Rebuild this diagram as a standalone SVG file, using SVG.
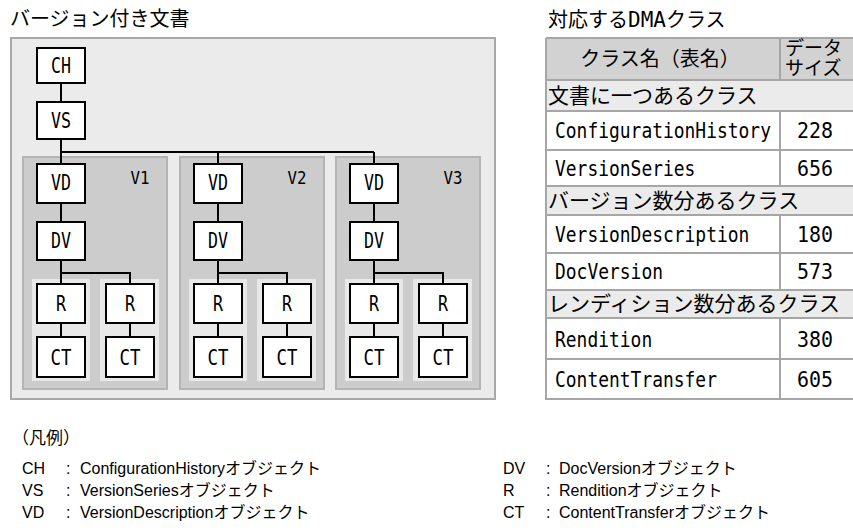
<svg xmlns="http://www.w3.org/2000/svg" width="853" height="530" viewBox="0 0 853 530">
<style>
.box{fill:#fff;stroke:#000;stroke-width:2}
.ln{stroke:#000;stroke-width:2;fill:none}
.outer{fill:#ebebeb;stroke:#a8a8a8;stroke-width:2}
.vp{fill:#cccccc;stroke:#b4b4b4;stroke-width:2}
.sp{fill:#e8e8e8}
.lbl{font-family:"DejaVu Sans Mono","Liberation Mono",monospace;font-size:21px;text-anchor:middle;fill:#000}
.vl{font-family:"DejaVu Sans Mono","Liberation Mono",monospace;font-size:17px;text-anchor:middle;fill:#000}
.jp{font-family:"Noto Sans CJK JP",sans-serif;fill:#000}
.mono{font-family:"DejaVu Sans Mono","Liberation Mono",monospace;font-size:21px;fill:#000}
.num{font-family:"DejaVu Sans Mono","Liberation Mono",monospace;font-size:21px;fill:#000;text-anchor:middle}
.hd{fill:#d2d2d2}
.sec{fill:#ebebeb}
.row{fill:#fff}
.tb{stroke:#a6a6a6;stroke-width:2;fill:none}
.lg{font-family:"Liberation Sans","Noto Sans CJK JP",sans-serif;font-size:16px;fill:#000}
</style>

<text class="jp" x="10" y="26" font-size="20">バージョン付き文書</text>
<text class="jp" x="548" y="27" font-size="20">対応する<tspan class="mono" font-size="20">DMA</tspan>クラス</text>

<g id="document">
<rect class="outer" x="11" y="38" width="484" height="361"/>
</g>

<g id="panels">
<g id="v1-panel"><rect class="vp" x="23" y="157" width="144" height="232"/><rect class="sp" x="32" y="279" width="58" height="102"/><rect class="sp" x="100" y="279" width="59" height="102"/><text class="vl" x="140" y="184" textLength="19" lengthAdjust="spacingAndGlyphs">V1</text></g>
<g id="v2-panel"><rect class="vp" x="180" y="157" width="144" height="232"/><rect class="sp" x="189" y="279" width="58" height="102"/><rect class="sp" x="257" y="279" width="59" height="102"/><text class="vl" x="297" y="184" textLength="19" lengthAdjust="spacingAndGlyphs">V2</text></g>
<g id="v3-panel"><rect class="vp" x="336" y="157" width="144" height="232"/><rect class="sp" x="345" y="279" width="58" height="102"/><rect class="sp" x="413" y="279" width="59" height="102"/><text class="vl" x="453" y="184" textLength="19" lengthAdjust="spacingAndGlyphs">V3</text></g>
</g>

<g id="connectors">
<path class="ln" d="M61 83V102M61 139V164M61 152H374M218 152V164M374 152V164"/>
<path class="ln" d="M61 203V222M61 260V284M61 273H130V284M61 323V337M130 323V337"/>
<path class="ln" d="M218 203V222M218 260V284M218 273H287V284M218 323V337M287 323V337"/>
<path class="ln" d="M374 203V222M374 260V284M374 273H443V284M374 323V337M443 323V337"/>
</g>

<g id="ch"><rect class="box" x="37" y="48" width="48" height="35"/><text class="lbl" x="61" y="73" textLength="20" lengthAdjust="spacingAndGlyphs">CH</text></g>
<g id="vs"><rect class="box" x="37" y="102" width="48" height="37"/><text class="lbl" x="61" y="128" textLength="20" lengthAdjust="spacingAndGlyphs">VS</text></g>

<g id="v1-vd"><rect class="box" x="37" y="164" width="48" height="39"/><text class="lbl" x="61" y="190" textLength="20" lengthAdjust="spacingAndGlyphs">VD</text></g>
<g id="v1-dv"><rect class="box" x="37" y="222" width="48" height="38"/><text class="lbl" x="61" y="248" textLength="20" lengthAdjust="spacingAndGlyphs">DV</text></g>
<g id="v1-r1"><rect class="box" x="37" y="284" width="48" height="39"/><text class="lbl" x="61" y="311" textLength="10" lengthAdjust="spacingAndGlyphs">R</text></g>
<g id="v1-ct1"><rect class="box" x="37" y="337" width="48" height="40"/><text class="lbl" x="61" y="365" textLength="21" lengthAdjust="spacingAndGlyphs">CT</text></g>
<g id="v1-r2"><rect class="box" x="106" y="284" width="48" height="39"/><text class="lbl" x="130" y="311" textLength="10" lengthAdjust="spacingAndGlyphs">R</text></g>
<g id="v1-ct2"><rect class="box" x="106" y="337" width="48" height="40"/><text class="lbl" x="130" y="365" textLength="21" lengthAdjust="spacingAndGlyphs">CT</text></g>

<g id="v2-vd"><rect class="box" x="194" y="164" width="48" height="39"/><text class="lbl" x="218" y="190" textLength="20" lengthAdjust="spacingAndGlyphs">VD</text></g>
<g id="v2-dv"><rect class="box" x="194" y="222" width="48" height="38"/><text class="lbl" x="218" y="248" textLength="20" lengthAdjust="spacingAndGlyphs">DV</text></g>
<g id="v2-r1"><rect class="box" x="194" y="284" width="48" height="39"/><text class="lbl" x="218" y="311" textLength="10" lengthAdjust="spacingAndGlyphs">R</text></g>
<g id="v2-ct1"><rect class="box" x="194" y="337" width="48" height="40"/><text class="lbl" x="218" y="365" textLength="21" lengthAdjust="spacingAndGlyphs">CT</text></g>
<g id="v2-r2"><rect class="box" x="263" y="284" width="48" height="39"/><text class="lbl" x="287" y="311" textLength="10" lengthAdjust="spacingAndGlyphs">R</text></g>
<g id="v2-ct2"><rect class="box" x="263" y="337" width="48" height="40"/><text class="lbl" x="287" y="365" textLength="21" lengthAdjust="spacingAndGlyphs">CT</text></g>

<g id="v3-vd"><rect class="box" x="350" y="164" width="48" height="39"/><text class="lbl" x="374" y="190" textLength="20" lengthAdjust="spacingAndGlyphs">VD</text></g>
<g id="v3-dv"><rect class="box" x="350" y="222" width="48" height="38"/><text class="lbl" x="374" y="248" textLength="20" lengthAdjust="spacingAndGlyphs">DV</text></g>
<g id="v3-r1"><rect class="box" x="350" y="284" width="48" height="39"/><text class="lbl" x="374" y="311" textLength="10" lengthAdjust="spacingAndGlyphs">R</text></g>
<g id="v3-ct1"><rect class="box" x="350" y="337" width="48" height="40"/><text class="lbl" x="374" y="365" textLength="21" lengthAdjust="spacingAndGlyphs">CT</text></g>
<g id="v3-r2"><rect class="box" x="419" y="284" width="48" height="39"/><text class="lbl" x="443" y="311" textLength="10" lengthAdjust="spacingAndGlyphs">R</text></g>
<g id="v3-ct2"><rect class="box" x="419" y="337" width="48" height="40"/><text class="lbl" x="443" y="365" textLength="21" lengthAdjust="spacingAndGlyphs">CT</text></g>

<g id="table">
<rect class="hd" x="546" y="38" width="312" height="42"/>
<rect class="sec" x="546" y="80" width="312" height="31"/>
<rect class="row" x="546" y="111" width="312" height="39"/>
<rect class="row" x="546" y="150" width="312" height="36"/>
<rect class="sec" x="546" y="186" width="312" height="29"/>
<rect class="row" x="546" y="215" width="312" height="38"/>
<rect class="row" x="546" y="253" width="312" height="37"/>
<rect class="sec" x="546" y="290" width="312" height="28"/>
<rect class="row" x="546" y="318" width="312" height="41"/>
<rect class="row" x="546" y="359" width="312" height="40"/>
<path class="tb" d="M546 38H858M546 38V399H858M546 80H858M546 111H858M546 150H858M546 186H858M546 215H858M546 253H858M546 290H858M546 318H858M546 359H858M780 38V80M780 111V186M780 215V290M780 318V399"/>
<text class="jp" x="660" y="66" font-size="20" text-anchor="middle">クラス名（表名）</text>
<text class="jp" font-size="19"><tspan x="785" y="55">データ</tspan><tspan x="785" y="75">サイズ</tspan></text>
<text class="jp" x="548" y="103" font-size="21">文書に一つあるクラス</text>
<text class="mono" transform="matrix(0.855 0 0 1 555 138)">ConfigurationHistory</text>
<text class="num" transform="matrix(0.95 0 0 1 815 138)">228</text>
<text class="mono" transform="matrix(0.855 0 0 1 555 176)">VersionSeries</text>
<text class="num" transform="matrix(0.95 0 0 1 815 176)">656</text>
<text class="jp" x="548" y="208" font-size="21">バージョン数分あるクラス</text>
<text class="mono" transform="matrix(0.855 0 0 1 555 242)">VersionDescription</text>
<text class="num" transform="matrix(0.95 0 0 1 815 242)">180</text>
<text class="mono" transform="matrix(0.855 0 0 1 555 279)">DocVersion</text>
<text class="num" transform="matrix(0.95 0 0 1 815 279)">573</text>
<text class="jp" x="548" y="311" font-size="21">レンディション数分あるクラス</text>
<text class="mono" transform="matrix(0.855 0 0 1 555 347)">Rendition</text>
<text class="num" transform="matrix(0.95 0 0 1 815 347)">380</text>
<text class="mono" transform="matrix(0.855 0 0 1 555 387)">ContentTransfer</text>
<text class="num" transform="matrix(0.95 0 0 1 815 387)">605</text>
</g>

<g id="legend">
<text class="jp" x="12" y="444" font-size="17">（凡例）</text>
<text class="lg" x="22" y="474">CH</text><text class="lg" x="66" y="474">:</text><text class="lg" x="80" y="474">ConfigurationHistoryオブジェクト</text>
<text class="lg" x="22" y="496">VS</text><text class="lg" x="66" y="496">:</text><text class="lg" x="80" y="496">VersionSeriesオブジェクト</text>
<text class="lg" x="22" y="518">VD</text><text class="lg" x="66" y="518">:</text><text class="lg" x="80" y="518">VersionDescriptionオブジェクト</text>
<text class="lg" x="503" y="474">DV</text><text class="lg" x="546" y="474">:</text><text class="lg" x="559" y="474">DocVersionオブジェクト</text>
<text class="lg" x="503" y="496">R</text><text class="lg" x="546" y="496">:</text><text class="lg" x="559" y="496">Renditionオブジェクト</text>
<text class="lg" x="503" y="518">CT</text><text class="lg" x="546" y="518">:</text><text class="lg" x="559" y="518">ContentTransferオブジェクト</text>
</g>
</svg>
